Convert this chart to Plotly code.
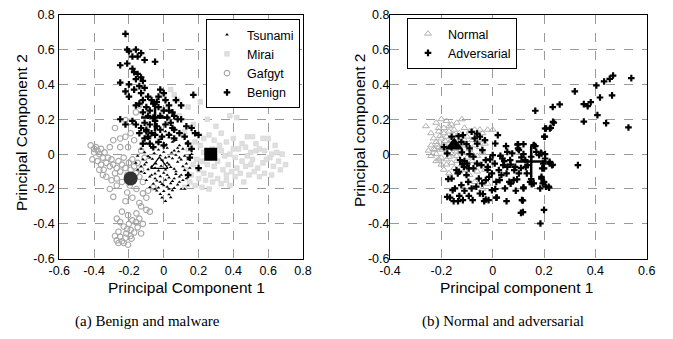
import plotly.graph_objects as go

# ---------------- Panel (a) data ----------------
tsunami = [(-0.05,0.12),(0.01,0.13),(0.04,0.11),(0.10,0.12),(-0.08,0.09),(-0.02,0.085),(0.03,0.095),(0.07,0.08),(0.12,0.10),
(-0.10,0.06),(-0.04,0.065),(0.015,0.055),(0.05,0.07),(0.09,0.05),(0.13,0.065),
(-0.13,0.03),(-0.07,0.035),(-0.03,0.025),(0.02,0.035),(0.06,0.02),(0.11,0.03),(0.15,0.025),
(-0.11,0.01),(-0.055,0.005),(0.00,0.012),(0.045,0.008),(0.085,0.015),
(-0.15,-0.01),(-0.09,-0.012),(-0.02,-0.008),(0.03,-0.015),(0.07,-0.005),(0.12,-0.01),
(-0.12,-0.03),(-0.065,-0.028),(-0.01,-0.035),(0.05,-0.025),(0.10,-0.032),(0.14,-0.03),
(-0.16,-0.05),(-0.10,-0.048),(-0.045,-0.055),(0.02,-0.05),(0.08,-0.045),(0.13,-0.055),
(-0.13,-0.07),(-0.07,-0.072),(-0.015,-0.068),(0.04,-0.075),(0.11,-0.07),
(-0.15,-0.09),(-0.09,-0.088),(-0.03,-0.095),(0.01,-0.09),(0.06,-0.085),(0.12,-0.092),
(-0.11,-0.11),(-0.05,-0.112),(0.00,-0.108),(0.07,-0.115),(0.14,-0.11),
(-0.08,-0.13),(-0.02,-0.128),(0.03,-0.135),(0.09,-0.13),(0.13,-0.14),
(-0.10,-0.15),(-0.04,-0.152),(0.01,-0.148),(0.05,-0.155),(0.11,-0.15),
(-0.06,-0.17),(-0.01,-0.172),(0.04,-0.168),(0.08,-0.175),(0.14,-0.18),
(-0.08,-0.19),(-0.03,-0.192),(0.02,-0.188),(0.06,-0.195),
(-0.04,-0.21),(0.00,-0.212),(0.05,-0.208),
(-0.02,-0.23),(0.03,-0.232),(-0.01,-0.25),(0.04,-0.248),(0.01,-0.27),
(-0.06,0.04),(0.0,0.045),(0.08,0.035),(-0.08,-0.02),(0.01,-0.02),(0.09,-0.02),(-0.11,-0.06),(-0.05,-0.08),
(0.03,-0.06),(0.07,-0.1),(-0.07,-0.12),(0.02,-0.12),(0.10,-0.12),(-0.05,-0.14),(0.06,-0.14),(-0.02,-0.16),
(0.09,-0.16),(0.00,-0.18),(-0.05,-0.2),(0.03,-0.2),(0.10,-0.2),(0.12,-0.2),(-0.13,-0.1),(0.16,0.0),(0.15,-0.08)]

mirai = [(0.04,0.37),(0.00,0.33),(0.06,0.34),(0.08,0.31),(0.21,0.30),(0.14,0.27),(0.38,0.22),(0.42,0.21),(0.25,0.20),
(0.17,0.17),(0.30,0.16),(0.48,0.10),(0.51,0.10),(0.60,0.09),(0.57,0.09),(0.40,0.09),(0.36,0.07),(0.45,0.06),(0.32,0.05),
(0.21,0.05),(0.28,0.03),(0.43,0.03),(0.47,0.04),(0.50,0.01),(0.53,0.02),(0.55,0.03),(0.58,0.02),(0.62,0.00),(0.65,0.01),
(0.68,0.00),(0.61,-0.02),(0.66,-0.04),(0.70,-0.06),(0.63,-0.07),(0.57,-0.05),(0.54,-0.08),(0.51,-0.03),(0.48,-0.01),
(0.45,-0.04),(0.41,-0.02),(0.38,0.00),(0.35,-0.01),(0.33,0.02),(0.31,-0.04),(0.37,-0.06),(0.42,-0.08),(0.47,-0.07),
(0.52,-0.10),(0.58,-0.11),(0.62,-0.12),(0.55,-0.13),(0.49,-0.12),(0.44,-0.11),(0.39,-0.10),(0.34,-0.09),(0.29,-0.07),
(0.25,-0.06),(0.22,-0.04),(0.19,-0.03),(0.17,-0.06),(0.20,-0.09),(0.23,-0.11),(0.27,-0.12),(0.31,-0.14),(0.36,-0.15),
(0.41,-0.13),(0.46,-0.16),(0.38,-0.18),(0.33,-0.17),(0.28,-0.16),(0.24,-0.15),(0.20,-0.14),(0.16,-0.12),(0.13,-0.09),
(0.18,-0.18),(0.22,-0.19),(0.26,-0.20),(0.15,-0.16),(0.12,-0.19),(0.29,0.08),(0.26,0.11),(0.33,0.12),(0.23,0.09),
(0.18,0.07),(0.14,0.03),(0.12,0.13),(0.09,0.22),(0.02,0.26),(0.53,0.06),(0.64,0.05),(0.59,-0.03),(0.67,-0.09),
(0.50,-0.06),(0.40,0.03),(0.36,-0.12),(0.27,-0.02),(0.23,0.01)]

gafgyt = [(-0.42,0.05),(-0.40,0.03),(-0.39,0.04),(-0.40,0.01),(-0.38,0.02),(-0.37,0.00),(-0.36,0.03),(-0.35,-0.02),
(-0.34,0.01),(-0.33,-0.05),(-0.32,-0.02),(-0.31,-0.07),(-0.345,-0.09),(-0.36,-0.06),(-0.38,-0.04),(-0.30,-0.03),
(-0.29,-0.06),(-0.28,-0.11),(-0.27,-0.08),(-0.26,-0.04),(-0.25,-0.10),(-0.24,-0.06),(-0.23,-0.02),(-0.22,-0.08),
(-0.21,-0.12),(-0.20,-0.05),(-0.19,-0.09),(-0.18,-0.03),(-0.17,-0.07),(-0.16,-0.11),(-0.15,-0.05),(-0.14,-0.13),
(-0.13,-0.09),(-0.33,-0.13),(-0.30,-0.15),(-0.27,-0.14),(-0.24,-0.16),(-0.31,-0.20),(-0.29,-0.245),(-0.22,-0.27),
(-0.14,-0.28),(-0.08,-0.33),(-0.10,-0.32),(-0.24,-0.33),(-0.205,-0.35),(-0.18,-0.38),(-0.15,-0.42),(-0.13,-0.455),
(-0.19,-0.435),(-0.215,-0.455),(-0.25,-0.475),(-0.27,-0.495),(-0.23,-0.51),(-0.205,-0.52),(-0.185,-0.485),
(-0.26,-0.445),(-0.23,-0.415),(-0.27,-0.37),(-0.25,-0.39),(-0.157,-0.34),(-0.13,-0.30),(-0.10,-0.25),(-0.12,-0.225),
(-0.157,-0.20),(-0.195,-0.18),(-0.16,-0.39),(-0.20,-0.40),(-0.17,-0.45),(-0.24,-0.50),(-0.22,-0.48),(-0.19,-0.47),
(-0.21,-0.43),(-0.14,-0.37),(-0.12,-0.40),(-0.28,-0.47),(-0.26,-0.51),(-0.195,0.185),(-0.22,0.195),(-0.28,0.15),
(-0.22,0.10),(-0.19,0.12),(-0.31,0.04),(-0.25,0.04),(-0.205,0.04),(-0.14,0.28),(-0.16,0.24),(-0.17,0.08),(-0.25,0.09),
(-0.29,0.08),(-0.13,0.02),(-0.11,-0.02),(-0.12,-0.16),(-0.09,-0.21),(-0.06,-0.19),(-0.21,-0.22),(-0.18,-0.25),
(-0.27,-0.18),(-0.35,-0.12),(-0.41,-0.03),(-0.37,-0.09)]

benign = [(-0.22,0.69),(-0.21,0.60),(-0.20,0.59),(-0.16,0.60),(-0.13,0.58),(-0.15,0.56),(-0.18,0.56),(-0.11,0.54),
(-0.25,0.51),(-0.05,0.53),(-0.21,0.52),(-0.18,0.49),(-0.17,0.47),(-0.15,0.46),(-0.16,0.43),(-0.13,0.44),(-0.12,0.42),
(-0.20,0.40),(-0.25,0.41),(-0.14,0.39),(-0.17,0.37),(-0.11,0.38),(-0.13,0.35),(-0.22,0.36),(-0.20,0.33),(-0.09,0.33),
(-0.02,0.37),(-0.03,0.33),(0.00,0.35),(-0.07,0.31),(-0.12,0.31),(-0.14,0.29),(-0.06,0.29),(-0.04,0.30),(-0.16,0.28),
(-0.10,0.27),(-0.08,0.25),(0.01,0.31),(0.07,0.31),(0.10,0.28),(0.17,0.34),(0.03,0.25),(0.05,0.24),(-0.12,0.24),
(-0.09,0.22),(-0.06,0.21),(-0.02,0.22),(0.02,0.21),(0.06,0.22),(0.08,0.20),(0.04,0.18),(-0.25,0.20),(-0.18,0.19),
(-0.22,0.17),(-0.16,0.17),(-0.11,0.18),(-0.13,0.15),(-0.10,0.13),(-0.04,0.16),(-0.02,0.14),(0.01,0.17),(0.05,0.15),
(0.09,0.12),(0.13,0.16),(0.16,0.15),(0.18,0.12),(0.20,0.11),(0.12,0.10),(0.06,0.09),(0.03,0.11),(-0.01,0.10),
(-0.05,0.11),(-0.09,0.10),(-0.11,0.09),(-0.12,0.06),(-0.08,0.06),(-0.06,0.04),(-0.03,0.07),(0.00,0.05),(0.14,0.06),
(0.16,0.03),(0.15,-0.02),(0.20,-0.08),(0.14,-0.12),(-0.10,0.14),(-0.07,0.12),(-0.14,0.12),(-0.08,0.17),(-0.05,0.19),
(0.0,0.25),(0.03,0.28),(0.06,0.14),(0.10,0.20),(-0.03,0.27)]

mean_a = {"Benign": (-0.05, 0.21), "Tsunami": (-0.025, -0.06), "Mirai": (0.27, 0.0), "Gafgyt": (-0.19, -0.14)}

# ---------------- Panel (b) data ----------------
normal = [(-0.26,0.16),(-0.24,0.12),(-0.22,0.18),(-0.20,0.20),(-0.18,0.19),(-0.16,0.17),(-0.14,0.18),(-0.12,0.20),
(-0.23,0.09),(-0.21,0.13),(-0.19,0.15),(-0.17,0.13),(-0.15,0.14),(-0.13,0.12),(-0.11,0.15),(-0.09,0.13),
(-0.24,0.05),(-0.22,0.07),(-0.20,0.09),(-0.18,0.10),(-0.16,0.08),(-0.14,0.09),(-0.12,0.07),(-0.10,0.10),(-0.08,0.08),
(-0.06,0.11),(-0.04,0.12),(-0.02,0.14),(-0.04,0.08),(-0.25,0.02),(-0.23,0.03),(-0.21,0.04),(-0.19,0.05),(-0.17,0.06),
(-0.15,0.03),(-0.13,0.04),(-0.11,0.05),(-0.09,0.03),(-0.07,0.05),(-0.05,0.04),(-0.03,0.06),(-0.24,-0.01),(-0.22,0.00),
(-0.20,-0.02),(-0.18,0.01),(-0.16,0.00),(-0.14,-0.01),(-0.12,0.01),(-0.10,-0.02),(-0.08,0.00),(-0.06,-0.01),(-0.04,0.01),
(-0.22,-0.04),(-0.20,-0.06),(-0.18,-0.03),(-0.16,-0.05),(-0.14,-0.04),(-0.12,-0.06),(-0.10,-0.05),(-0.08,-0.04),
(-0.05,-0.06),(-0.19,-0.09),(-0.17,-0.11),(-0.15,-0.08),(-0.13,-0.10),(-0.11,-0.09),(-0.09,-0.12),(-0.06,-0.10),
(-0.03,-0.09),(-0.07,-0.16),(-0.04,-0.20),(-0.02,-0.17),(-0.215,0.055),(-0.195,0.025),(-0.175,0.035),(-0.165,0.075),
(-0.145,0.055),(-0.125,0.025),(-0.205,0.105),(-0.185,0.075),(-0.225,0.025),(-0.17,-0.015),(-0.19,0.12),(-0.15,0.11),
(-0.13,0.07),(-0.11,0.08),(-0.2,0.035),(-0.16,0.045),(-0.14,0.015),(-0.18,-0.06),(-0.21,-0.03),(-0.17,0.16),
(-0.21,0.15),(-0.07,0.14),(-0.05,0.14),(0.00,0.14)]

adversarial = [(0.166,0.249),(0.204,0.147),(0.226,0.151),(0.235,0.185),(0.201,0.10),(0.234,0.27),(0.261,0.285),
(0.32,0.36),(0.404,0.394),(0.434,0.417),(0.456,0.432),(0.469,0.451),(0.54,0.436),(0.465,0.337),(0.418,0.325),
(0.382,0.298),(0.355,0.287),(0.37,0.275),(0.408,0.224),(0.355,0.187),(0.442,0.178),(0.529,0.153),(0.332,-0.063),
(0.186,-0.398),(0.20,-0.32),(0.118,-0.333),(0.118,-0.266),(0.054,-0.27),(0.014,-0.25),(-0.027,-0.26),(-0.033,-0.27),
(0.22,-0.193),(0.207,-0.187),(0.2,-0.159),(0.19,-0.13),(0.193,-0.082),(0.222,-0.054),(0.234,-0.061),(0.204,0.0),
(0.188,0.008),(0.16,0.048),(0.12,0.057),(0.099,0.057),(0.099,0.033),(0.127,-0.034),(0.152,-0.172),(0.12,-0.19),
(0.15,-0.143),(-0.16,0.10),(-0.19,0.04),(-0.177,0.004),(-0.16,0.04),(-0.133,0.103),(-0.116,0.109),(-0.122,0.07),
(-0.102,0.057),(-0.09,0.033),(-0.082,0.128),(-0.061,0.118),(-0.05,0.10),(-0.07,0.09),(-0.09,0.0),(-0.11,-0.04),
(-0.118,-0.057),(-0.10,-0.055),(-0.075,-0.015),(-0.04,0.023),(-0.027,-0.034),(-0.01,-0.03),(0.02,0.109),(0.01,0.061),
(0.0,-0.006),(0.008,-0.054),(0.038,-0.025),(0.052,0.046),(0.057,0.013),(0.068,-0.034),(0.076,0.004),(0.088,-0.073),
(0.097,0.055),(0.102,0.023),(0.112,-0.019),(0.12,0.0),(0.129,-0.073),(0.133,-0.111),(0.16,0.052),(0.166,0.046),
(0.19,0.004),(0.203,0.10),(0.208,0.147),(0.223,0.147),(0.238,0.18),(0.222,-0.044),(0.231,-0.063),(0.20,-0.082),
(0.19,-0.14),(0.195,-0.168),(0.218,-0.187),(0.185,-0.197),(0.146,-0.159),(0.16,-0.168),(0.12,-0.197),(0.114,-0.264),
(0.11,-0.337),(0.016,-0.249),(-0.016,-0.264),(-0.078,-0.264),(-0.093,-0.24),(-0.116,-0.264),(-0.135,-0.27),
(-0.152,-0.27),(-0.166,-0.249),(-0.156,-0.207),(-0.16,-0.14),(-0.173,-0.143),(-0.136,-0.111),(-0.132,-0.101),
(-0.102,-0.12),(-0.095,-0.159),(-0.122,-0.178),(-0.082,-0.197),(-0.064,-0.187),(-0.041,-0.168),(-0.054,-0.14),
(-0.027,-0.149),(-0.014,-0.13),(-0.003,-0.111),(0.014,-0.159),(0.027,-0.149),(0.034,-0.12),(0.048,-0.197),
(0.065,-0.159),(0.082,-0.149),(0.095,-0.145),(0.102,-0.111),(0.084,-0.092),(0.057,-0.073),(0.041,-0.063),
(0.024,-0.092),(-0.019,-0.073),(-0.044,-0.063),(-0.061,-0.054),(-0.075,-0.082),(-0.093,-0.082),(-0.112,-0.073),
(-0.127,-0.034),(-0.141,-0.092),(-0.147,-0.197),(-0.177,-0.245),(-0.05,-0.226),(-0.038,-0.229),(-0.003,-0.207),
(0.054,-0.111),(0.07,-0.17),(0.136,-0.063),(0.15,-0.015),(0.17,0.013),(0.181,-0.006),(0.204,-0.025),(0.197,-0.054),
(-0.06,0.06),(-0.03,0.08),(-0.12,0.01),(0.03,-0.01),(0.07,-0.06),(0.045,-0.04),(0.11,-0.08),(-0.02,-0.09),
(0.01,-0.2),(0.09,-0.21),(-0.11,-0.21),(-0.13,-0.24)]

mean_b = {"Normal": (-0.15, 0.05), "Adversarial": (0.15, -0.042)}

xticks_a = [-0.6, -0.4, -0.2, 0, 0.2, 0.4, 0.6, 0.8]
xticks_b = [-0.4, -0.2, 0, 0.2, 0.4, 0.6]
yticks = [-0.6, -0.4, -0.2, 0, 0.2, 0.4, 0.6, 0.8]

def xs(p): return [a for a, b in p]
def ys(p): return [b for a, b in p]

W, H = 673, 339
OFF = 8  # page body margin offset
def px(v): return (v - OFF) / W
def py(v): return 1 - (v - OFF) / H

fig = go.Figure()
# panel a (draw order: Mirai, Gafgyt, Tsunami, Benign)
fig.add_trace(go.Scatter(x=xs(mirai), y=ys(mirai), mode="markers", name="Mirai", legendrank=2, legend="legend",
    marker=dict(symbol="square", size=4.6, color="#e0e0e0", line=dict(color="#d2d2d2", width=0.6)), xaxis="x", yaxis="y"))
fig.add_trace(go.Scatter(x=xs(gafgyt), y=ys(gafgyt), mode="markers", name="Gafgyt", legendrank=3, legend="legend",
    marker=dict(symbol="circle-open", size=5.5, color="#a6a6a6", line=dict(width=1.1)), xaxis="x", yaxis="y"))
fig.add_trace(go.Scatter(x=xs(tsunami), y=ys(tsunami), mode="markers", name="Tsunami", legendrank=1, legend="legend",
    marker=dict(symbol="triangle-up", size=3.2, color="black"), xaxis="x", yaxis="y"))
fig.add_trace(go.Scatter(x=xs(benign), y=ys(benign), mode="markers", name="Benign", legendrank=4, legend="legend",
    marker=dict(symbol="cross", size=5.5, color="black"), xaxis="x", yaxis="y"))
# means
fig.add_trace(go.Scatter(x=[mean_a["Mirai"][0]], y=[mean_a["Mirai"][1]], mode="markers", showlegend=False,
    marker=dict(symbol="square", size=13, color="black"), xaxis="x", yaxis="y"))
fig.add_trace(go.Scatter(x=[mean_a["Gafgyt"][0]], y=[mean_a["Gafgyt"][1]], mode="markers", showlegend=False,
    marker=dict(symbol="circle", size=14, color="#333333"), xaxis="x", yaxis="y"))
fig.add_trace(go.Scatter(x=[mean_a["Tsunami"][0]], y=[mean_a["Tsunami"][1]], mode="markers", showlegend=False,
    marker=dict(symbol="triangle-up-open", size=15, color="black", line=dict(width=1.3)), xaxis="x", yaxis="y"))
fig.add_trace(go.Scatter(x=[mean_a["Benign"][0]], y=[mean_a["Benign"][1]], mode="markers", showlegend=False,
    marker=dict(symbol="cross-thin", size=20, color="black", line=dict(width=2.5, color="black")), xaxis="x", yaxis="y"))

# panel b
fig.add_trace(go.Scatter(x=xs(normal), y=ys(normal), mode="markers", name="Normal", legend="legend2",
    marker=dict(symbol="triangle-up-open", size=6, color="#b0b0b0", line=dict(width=1)), xaxis="x2", yaxis="y2"))
fig.add_trace(go.Scatter(x=xs(adversarial), y=ys(adversarial), mode="markers", name="Adversarial", legend="legend2",
    marker=dict(symbol="cross", size=5.5, color="black"), xaxis="x2", yaxis="y2"))
fig.add_trace(go.Scatter(x=[mean_b["Normal"][0]], y=[mean_b["Normal"][1]], mode="markers", showlegend=False,
    marker=dict(symbol="triangle-up", size=16, color="black"), xaxis="x2", yaxis="y2"))
fig.add_trace(go.Scatter(x=[mean_b["Adversarial"][0]], y=[mean_b["Adversarial"][1]], mode="markers", showlegend=False,
    marker=dict(symbol="cross-thin", size=22, color="black", line=dict(width=2.5, color="black")), xaxis="x2", yaxis="y2"))

sans = "Liberation Sans, Arial, sans-serif"
tickfont = dict(family=sans, size=12.5, color="black")
titlefont = dict(family=sans, size=15.5, color="black")
common = dict(showline=True, mirror=True, linecolor="black", linewidth=1, showgrid=True, gridcolor="#9a9a9a",
              griddash="dash", gridwidth=1, zeroline=False, ticks="", tickfont=tickfont, automargin=False,
              ticklabeloverflow="allow")
yd = [py(258.7), py(14.7)]

def ann(text, x, y, angle=0, font=titlefont):
    return dict(text=text, x=px(x), y=py(y), xref="paper", yref="paper", showarrow=False, textangle=angle,
                xanchor="center", yanchor="middle", font=font)

serif = dict(family="Liberation Serif, Times New Roman, serif", size=15, color="black")
legfont = dict(family=sans, size=12.5, color="black")
fig.update_layout(
    width=W, height=H, margin=dict(l=0, r=0, t=0, b=0),
    paper_bgcolor="white", plot_bgcolor="white",
    xaxis=dict(domain=[px(59.3), px(303)], range=[-0.6, 0.8], tickvals=xticks_a,
               ticktext=[f"{v:g}" for v in xticks_a], anchor="y", **common),
    yaxis=dict(domain=yd, range=[-0.6, 0.8], tickvals=yticks, ticktext=[f"{v:g}" for v in yticks], anchor="x",
               ticklabelstandoff=1, **common),
    xaxis2=dict(domain=[px(390), px(646.7)], range=[-0.4, 0.6], tickvals=xticks_b,
                ticktext=[f"{v:g}" for v in xticks_b], anchor="y2", **common),
    yaxis2=dict(domain=yd, range=[-0.6, 0.8], tickvals=yticks, ticktext=[f"{v:g}" for v in yticks], anchor="x2",
                ticklabelstandoff=-3, **common),
    legend=dict(x=px(206), xanchor="left", y=py(19), yanchor="top", bgcolor="white", bordercolor="black",
                borderwidth=1, font=legfont, tracegroupgap=0, itemwidth=30),
    legend2=dict(x=px(407), xanchor="left", y=py(18), yanchor="top", bgcolor="white", bordercolor="black",
                 borderwidth=1, font=legfont, tracegroupgap=0, itemwidth=30),
    showlegend=True,
    annotations=[
        ann("Principal Component 1", 186, 287),
        ann("Principal Component 2", 21, 133, -90),
        ann("Principal component 1", 516, 287),
        ann("Principal component 2", 359, 131, -90),
        ann("(a) Benign and malware", 147, 321, font=serif),
        ann("(b) Normal and adversarial", 503, 321, font=serif),
    ],
)
fig.write_html("out.html")
